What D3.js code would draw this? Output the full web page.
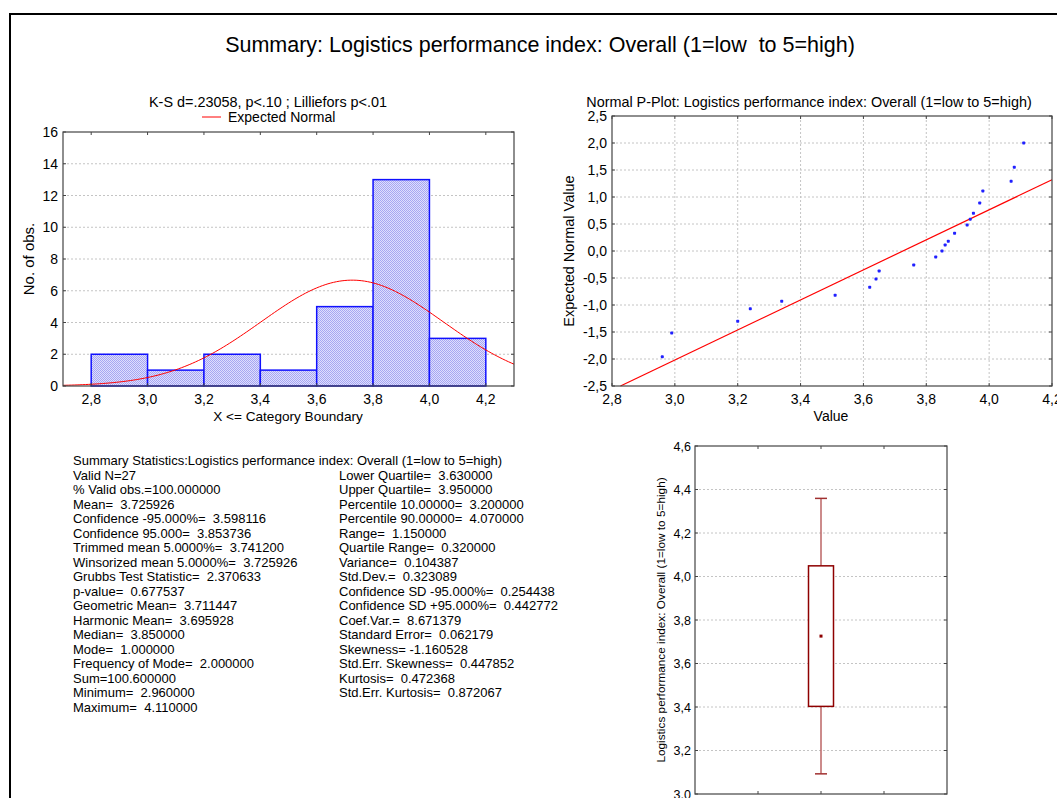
<!DOCTYPE html>
<html>
<head>
<meta charset="utf-8">
<script src="https://cdn.jsdelivr.net/npm/d3@7"></script>
<style>
  body { margin: 0; background: #fff; }
  svg text { font-family: "Liberation Sans", Arial, sans-serif; fill: #000; white-space: pre; }
</style>
</head>
<body>
<div id="chart"></div>
<script>
// histogram: bin edges and counts
var binEdges = [2.8, 3.0, 3.2, 3.4, 3.6, 3.8, 4.0, 4.2];
var binCounts = [2, 1, 2, 1, 5, 13, 3];
var histXTicks = [2.8, 3.0, 3.2, 3.4, 3.6, 3.8, 4.0, 4.2];
var histYTicks = [0, 2, 4, 6, 8, 10, 12, 14, 16];

// descriptive values
var obsN = 27;
var obsMean = 3.725926;
var obsSd = 0.323089;

// normal probability plot
var ppValue = [2.96, 2.99, 3.20, 3.24, 3.34, 3.51, 3.62, 3.64, 3.65, 3.76, 3.83, 3.85,
  3.86, 3.87, 3.89, 3.93, 3.94, 3.95, 3.97, 3.98, 4.07, 4.08, 4.11];
var ppExpected = [-1.96, -1.52, -1.30, -1.07, -0.93, -0.82, -0.67, -0.52, -0.37, -0.26, -0.11, 0.00,
  0.11, 0.18, 0.33, 0.48, 0.59, 0.70, 0.89, 1.11, 1.29, 1.55, 2.00];
var ppLineX = [2.827, 4.2];
var ppLineY = [-2.5, 1.32];
var ppXTicks = [2.8, 3.0, 3.2, 3.4, 3.6, 3.8, 4.0, 4.2];
var ppYTicks = [-2.5, -2.0, -1.5, -1.0, -0.5, 0.0, 0.5, 1.0, 1.5, 2.0, 2.5];

// box plot: mean, mean±SD, mean±1.96*SD
var boxMean = [3.725926];
var boxLow = [3.402837];
var boxHigh = [4.049015];
var whiskLow = [3.092672];
var whiskHigh = [4.359180];
var boxYTicks = [3.0, 3.2, 3.4, 3.6, 3.8, 4.0, 4.2, 4.4, 4.6];

var statsLeft = [
  "Valid N=27",
  "% Valid obs.=100.000000",
  "Mean=  3.725926",
  "Confidence -95.000%=  3.598116",
  "Confidence 95.000=  3.853736",
  "Trimmed mean 5.0000%=  3.741200",
  "Winsorized mean 5.0000%=  3.725926",
  "Grubbs Test Statistic=  2.370633",
  "p-value=  0.677537",
  "Geometric Mean=  3.711447",
  "Harmonic Mean=  3.695928",
  "Median=  3.850000",
  "Mode=  1.000000",
  "Frequency of Mode=  2.000000",
  "Sum=100.600000",
  "Minimum=  2.960000",
  "Maximum=  4.110000"
];
var statsRight = [
  "Lower Quartile=  3.630000",
  "Upper Quartile=  3.950000",
  "Percentile 10.00000=  3.200000",
  "Percentile 90.00000=  4.070000",
  "Range=  1.150000",
  "Quartile Range=  0.320000",
  "Variance=  0.104387",
  "Std.Dev.=  0.323089",
  "Confidence SD -95.000%=  0.254438",
  "Confidence SD +95.000%=  0.442772",
  "Coef.Var.=  8.671379",
  "Standard Error=  0.062179",
  "Skewness= -1.160528",
  "Std.Err. Skewness=  0.447852",
  "Kurtosis=  0.472368",
  "Std.Err. Kurtosis=  0.872067"
];

var W = 1057, H = 798;
var svg = d3.select("#chart").append("svg")
  .attr("width", W).attr("height", H);

var loc = d3.formatLocale({decimal: ",", thousands: ".", grouping: [3], currency: ["", ""], minus: "-"});
var f1 = loc.format(".1f");

// fine hatch for bars
var defs = svg.append("defs");
var pat = defs.append("pattern").attr("id", "hatch")
  .attr("width", 2).attr("height", 2).attr("patternUnits", "userSpaceOnUse");
pat.append("rect").attr("width", 2).attr("height", 2).attr("fill", "#dedefd");
pat.append("rect").attr("x", 0).attr("y", 0).attr("width", 1).attr("height", 1).attr("fill", "#a6a6f2");
pat.append("rect").attr("x", 1).attr("y", 1).attr("width", 1).attr("height", 1).attr("fill", "#a6a6f2");

// outer frame
svg.append("rect").attr("x", 10).attr("y", 14).attr("width", 1100).attr("height", 900)
  .attr("fill", "none").attr("stroke", "#000").attr("stroke-width", 2);

svg.append("text").attr("x", 540).attr("y", 52).attr("text-anchor", "middle")
  .style("font-size", "21.5px").text("Summary: Logistics performance index: Overall (1=low  to 5=high)");

// generic frame with inward ticks on all sides
function frame(g, x, y, xt, yt) {
  var x0 = x.range()[0], x1 = x.range()[1], y0 = y.range()[0], y1 = y.range()[1];
  g.append("rect").attr("x", x0).attr("y", y1).attr("width", x1 - x0).attr("height", y0 - y1)
    .attr("fill", "none").attr("stroke", "#444").attr("stroke-width", 1.2);
  xt.forEach(function(t) {
    g.append("line").attr("x1", x(t)).attr("x2", x(t)).attr("y1", y0).attr("y2", y0 - 3).attr("stroke", "#444");
    g.append("line").attr("x1", x(t)).attr("x2", x(t)).attr("y1", y1).attr("y2", y1 + 3).attr("stroke", "#444");
  });
  yt.forEach(function(t) {
    g.append("line").attr("x1", x0).attr("x2", x0 + 3).attr("y1", y(t)).attr("y2", y(t)).attr("stroke", "#444");
    g.append("line").attr("x1", x1).attr("x2", x1 - 3).attr("y1", y(t)).attr("y2", y(t)).attr("stroke", "#444");
  });
}

function hgrid(g, x, y, ticks) {
  g.selectAll(null).data(ticks).enter().append("line")
    .attr("x1", x.range()[0]).attr("x2", x.range()[1])
    .attr("y1", d => y(d)).attr("y2", d => y(d))
    .attr("stroke", "#c4c4c4").attr("stroke-dasharray", "2,2");
}
function vgrid(g, x, y, ticks) {
  g.selectAll(null).data(ticks).enter().append("line")
    .attr("y1", y.range()[0]).attr("y2", y.range()[1])
    .attr("x1", d => x(d)).attr("x2", d => x(d))
    .attr("stroke", "#c4c4c4").attr("stroke-dasharray", "2,2");
}

// ---------- histogram ----------
var hg = svg.append("g");
var hx = d3.scaleLinear().domain([2.7, 4.3]).range([63, 514]);
var hy = d3.scaleLinear().domain([0, 16]).range([386, 132]);

hgrid(hg, hx, hy, histYTicks.slice(1, -1));

hg.selectAll(".bar").data(binCounts).enter().append("rect")
  .attr("x", (d, i) => hx(binEdges[i]))
  .attr("width", (d, i) => hx(binEdges[i + 1]) - hx(binEdges[i]))
  .attr("y", d => hy(d))
  .attr("height", d => hy(0) - hy(d))
  .attr("fill", "url(#hatch)").attr("stroke", "#1010ff").attr("stroke-width", 1.5);

var binW = binEdges[1] - binEdges[0];
var curve = d3.range(2.7, 4.3001, 0.01).map(function(v) {
  var z = (v - obsMean) / obsSd;
  return [v, obsN * binW * Math.exp(-0.5 * z * z) / (obsSd * Math.sqrt(2 * Math.PI))];
});
hg.append("path").datum(curve)
  .attr("d", d3.line().x(d => hx(d[0])).y(d => hy(d[1])))
  .attr("fill", "none").attr("stroke", "#ff0000").attr("stroke-width", 1);

frame(hg, hx, hy, histXTicks, histYTicks);

hg.selectAll(".yl").data(histYTicks).enter().append("text")
  .attr("x", 58).attr("y", d => hy(d) + 5).attr("text-anchor", "end")
  .style("font-size", "14px").text(d => d);
hg.selectAll(".xl").data(histXTicks).enter().append("text")
  .attr("x", d => hx(d)).attr("y", 404).attr("text-anchor", "middle")
  .style("font-size", "14px").text(d => f1(d));

hg.append("text").attr("x", 268).attr("y", 106.5).attr("text-anchor", "middle")
  .style("font-size", "14.4px").text("K-S d=.23058, p<.10 ; Lilliefors p<.01");
hg.append("line").attr("x1", 202).attr("x2", 221).attr("y1", 117).attr("y2", 117)
  .attr("stroke", "#ff0000");
hg.append("text").attr("x", 228).attr("y", 122)
  .style("font-size", "14px").text("Expected Normal");
hg.append("text").attr("transform", "translate(34,259) rotate(-90)").attr("text-anchor", "middle")
  .style("font-size", "15px").text("No. of obs.");
hg.append("text").attr("x", 288).attr("y", 421).attr("text-anchor", "middle")
  .style("font-size", "13.6px").text("X <= Category Boundary");

// ---------- normal P-plot ----------
var pg = svg.append("g");
var px = d3.scaleLinear().domain([2.8, 4.2]).range([612, 1052]);
var py = d3.scaleLinear().domain([-2.5, 2.5]).range([386, 116]);

hgrid(pg, px, py, ppYTicks.slice(1, -1));
vgrid(pg, px, py, ppXTicks.slice(1, -1));

pg.append("line")
  .attr("x1", px(ppLineX[0])).attr("y1", py(ppLineY[0]))
  .attr("x2", px(ppLineX[1])).attr("y2", py(ppLineY[1]))
  .attr("stroke", "#ff0000").attr("stroke-width", 1.2);

pg.selectAll(".pt").data(ppValue).enter().append("rect")
  .attr("x", (d, i) => px(d) - 1.5).attr("y", (d, i) => py(ppExpected[i]) - 1.5)
  .attr("width", 3).attr("height", 3).attr("rx", 0.8).attr("fill", "#2020ff");

frame(pg, px, py, ppXTicks, ppYTicks);

pg.selectAll(".yl").data(ppYTicks).enter().append("text")
  .attr("x", 607).attr("y", d => py(d) + 5).attr("text-anchor", "end")
  .style("font-size", "14px").text(d => f1(d));
pg.selectAll(".xl").data(ppXTicks).enter().append("text")
  .attr("x", d => px(d)).attr("y", 404).attr("text-anchor", "middle")
  .style("font-size", "14px").text(d => f1(d));

pg.append("text").attr("x", 809).attr("y", 106.5).attr("text-anchor", "middle")
  .style("font-size", "14.4px").text("Normal P-Plot: Logistics performance index: Overall (1=low to 5=high)");
pg.append("text").attr("transform", "translate(574,251) rotate(-90)").attr("text-anchor", "middle")
  .style("font-size", "14.5px").text("Expected Normal Value");
pg.append("text").attr("x", 831).attr("y", 421).attr("text-anchor", "middle")
  .style("font-size", "14px").text("Value");

// ---------- summary statistics text ----------
var sg = svg.append("g").style("font-size", "13px");
sg.append("text").attr("x", 73).attr("y", 465)
  .text("Summary Statistics:Logistics performance index: Overall (1=low to 5=high)");
sg.selectAll(".sl").data(statsLeft).enter().append("text")
  .attr("x", 73).attr("y", (d, i) => 479.5 + i * 14.5).text(d => d);
sg.selectAll(".sr").data(statsRight).enter().append("text")
  .attr("x", 339).attr("y", (d, i) => 479.5 + i * 14.5).text(d => d);

// ---------- box plot ----------
var bg = svg.append("g");
var bx = d3.scaleLinear().domain([0, 1]).range([695, 947]);
var by = d3.scaleLinear().domain([3.0, 4.6]).range([794, 446]);

hgrid(bg, bx, by, boxYTicks.slice(1, -1));

var cx = bx(0.5);
bg.append("line").attr("x1", cx).attr("x2", cx).attr("y1", by(whiskHigh[0])).attr("y2", by(boxHigh[0]))
  .attr("stroke", "#bb6464").attr("stroke-width", 1.5);
bg.append("line").attr("x1", cx).attr("x2", cx).attr("y1", by(boxLow[0])).attr("y2", by(whiskLow[0]))
  .attr("stroke", "#bb6464").attr("stroke-width", 1.5);
bg.append("line").attr("x1", cx - 6).attr("x2", cx + 6).attr("y1", by(whiskHigh[0])).attr("y2", by(whiskHigh[0]))
  .attr("stroke", "#a03030").attr("stroke-width", 1.5);
bg.append("line").attr("x1", cx - 6).attr("x2", cx + 6).attr("y1", by(whiskLow[0])).attr("y2", by(whiskLow[0]))
  .attr("stroke", "#a03030").attr("stroke-width", 1.5);
bg.append("rect").attr("x", cx - 12.5).attr("width", 25)
  .attr("y", by(boxHigh[0])).attr("height", by(boxLow[0]) - by(boxHigh[0]))
  .attr("fill", "#fff").attr("stroke", "#8e0000").attr("stroke-width", 1.5);
bg.append("rect").attr("x", cx - 1.5).attr("y", by(boxMean[0]) - 1.5)
  .attr("width", 3).attr("height", 3).attr("fill", "#8e0000");

frame(bg, bx, by, [0.25, 0.5, 0.75], boxYTicks);

bg.selectAll(".yl").data(boxYTicks).enter().append("text")
  .attr("x", 691).attr("y", d => by(d) + 4.5).attr("text-anchor", "end")
  .style("font-size", "12.5px").text(d => f1(d));
bg.append("text").attr("transform", "translate(665,620) rotate(-90)").attr("text-anchor", "middle")
  .style("font-size", "11.8px")
  .text("Logistics performance index: Overall (1=low to 5=high)");
</script>
</body>
</html>
